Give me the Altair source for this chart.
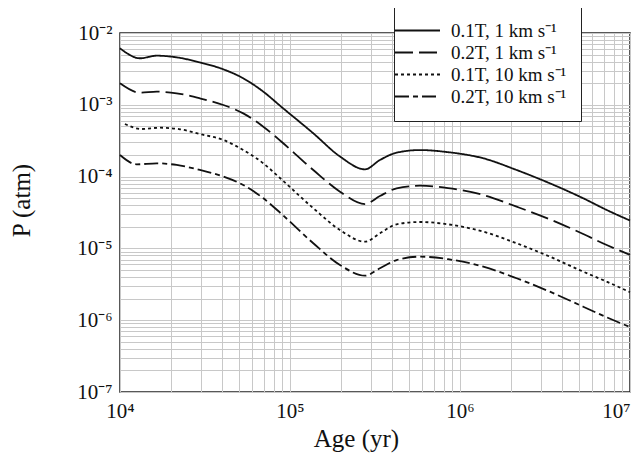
import altair as alt
import pandas as pd

# Series values (log10 of age in yr, log10 of pressure in atm)
s1_log_age = [4.0, 4.118, 4.216, 4.333, 4.47, 4.608, 4.725, 4.843, 4.95, 5.137, 5.294, 5.441, 5.529, 5.627, 5.765, 5.93, 6.137, 6.333, 6.529, 6.725, 6.863, 7.0]
s1_log_p = [-2.213, -2.352, -2.316, -2.339, -2.41, -2.506, -2.631, -2.817, -3.03, -3.397, -3.72, -3.899, -3.769, -3.667, -3.63, -3.66, -3.745, -3.908, -4.094, -4.302, -4.465, -4.612]

s2_log_age = [4.0, 4.118, 4.216, 4.333, 4.47, 4.608, 4.725, 4.843, 4.95, 5.137, 5.294, 5.441, 5.529, 5.627, 5.765, 5.93, 6.137, 6.333, 6.529, 6.725, 6.863, 7.0]
s2_log_p = [-2.70, -2.831, -2.817, -2.84, -2.91, -3.003, -3.119, -3.305, -3.514, -3.908, -4.21, -4.382, -4.27, -4.163, -4.127, -4.16, -4.256, -4.419, -4.595, -4.80, -4.953, -5.09]

s3_log_age = [4.029, 4.127, 4.235, 4.353, 4.47, 4.608, 4.725, 4.843, 4.941, 5.137, 5.294, 5.441, 5.529, 5.627, 5.765, 5.93, 6.137, 6.333, 6.529, 6.725, 6.863, 7.0]
s3_log_p = [-3.267, -3.337, -3.319, -3.341, -3.407, -3.49, -3.63, -3.815, -4.02, -4.44, -4.744, -4.907, -4.79, -4.664, -4.632, -4.665, -4.767, -4.929, -5.115, -5.324, -5.463, -5.61]

s4_log_age = [4.0, 4.098, 4.216, 4.333, 4.47, 4.608, 4.725, 4.843, 4.95, 5.137, 5.294, 5.441, 5.529, 5.627, 5.765, 5.93, 6.137, 6.333, 6.529, 6.725, 6.863, 7.0]
s4_log_p = [-3.699, -3.829, -3.815, -3.838, -3.908, -4.0, -4.117, -4.302, -4.52, -4.929, -5.231, -5.38, -5.277, -5.162, -5.115, -5.15, -5.255, -5.416, -5.603, -5.812, -5.96, -6.095]

series_names = ["0.1T, 1 km s\u207b\u00b9", "0.2T, 1 km s\u207b\u00b9",
                "0.1T, 10 km s\u207b\u00b9", "0.2T, 10 km s\u207b\u00b9"]
dash_styles = [[1, 0], [18, 6], [3, 3], [14, 4, 5, 4]]

x_grid = [m * 10 ** k for k in range(4, 7) for m in range(1, 10)] + [1e7]
y_grid = [m * 10.0 ** k for k in range(-7, -2) for m in range(1, 10)] + [1e-2]

rows = []
for name, la, lp in zip(series_names,
                        [s1_log_age, s2_log_age, s3_log_age, s4_log_age],
                        [s1_log_p, s2_log_p, s3_log_p, s4_log_p]):
    for a, p in zip(la, lp):
        rows.append({"series": name, "age": 10 ** a, "P": 10 ** p})
df = pd.DataFrame(rows)

font = "Liberation Serif"
x_lab = "datum.value == 10000 ? '10\u2074' : datum.value == 100000 ? '10\u2075' : datum.value == 1000000 ? '10\u2076' : datum.value == 10000000 ? '10\u2077' : ''"
y_lab = ("datum.value == 0.01 ? '10\u207b\u00b2' : datum.value == 0.001 ? '10\u207b\u00b3' : "
         "datum.value == 0.0001 ? '10\u207b\u2074' : datum.value == 0.00001 ? '10\u207b\u2075' : "
         "datum.value == 0.000001 ? '10\u207b\u2076' : datum.value == 0.0000001 ? '10\u207b\u2077' : ''")

chart = alt.Chart(df).mark_line(color="#111111", strokeWidth=1.8, interpolate="monotone").encode(
    x=alt.X("age:Q", scale=alt.Scale(type="log", domain=[1e4, 1e7], nice=False),
            axis=alt.Axis(values=x_grid, labelExpr=x_lab, title="Age (yr)",
                          domain=False, ticks=False, labelFontSize=21, labelPadding=8,
                          labelFont=font, titleFont=font,
                          labelAlign=alt.ExprRef("datum.value == 10000000 ? 'right' : 'center'"),
                          labelFlush=False, labelOverlap=False,
                          titleFontSize=25, titleFontWeight="normal",
                          titleX=236, titleY=46, titleBaseline="middle")),
    y=alt.Y("P:Q", scale=alt.Scale(type="log", domain=[1e-7, 1e-2], nice=False),
            axis=alt.Axis(values=y_grid, labelExpr=y_lab, title="P (atm)",
                          domain=False, ticks=False, labelFontSize=21, labelPadding=8,
                          labelFont=font, titleFont=font,
                          labelFlush=False, labelOverlap=False,
                          titleFontSize=25, titleFontWeight="normal",
                          titleX=-99, titleY=167, titleBaseline="middle", titleAngle=-90)),
    strokeDash=alt.StrokeDash("series:N", sort=series_names,
                              scale=alt.Scale(domain=series_names, range=dash_styles),
                              legend=alt.Legend(title=None, orient="none", legendX=274, legendY=-26,
                                                symbolType="M-4.5,0H4.5", symbolSize=100,
                                                symbolStrokeWidth=1.8, symbolStrokeColor="#111111",
                                                labelFontSize=19, labelFont=font,
                                                fillColor="white", strokeColor="#222222",
                                                padding=14, rowPadding=2, labelOffset=24)),
).properties(
    width=510, height=359,
    autosize=alt.AutoSizeParams(type="none"),
    padding={"left": 112, "top": 25, "right": 6, "bottom": 63},
).configure_axis(
    grid=True, gridColor="#c8c8c8", gridWidth=1,
    labelFont=font, titleFont=font, labelColor="#111111", titleColor="#111111",
).configure_view(
    stroke="#222222", strokeWidth=1.5
).configure_legend(labelColor="#111111")

chart.save("out.html", embed_options={"renderer": "svg", "actions": False})
